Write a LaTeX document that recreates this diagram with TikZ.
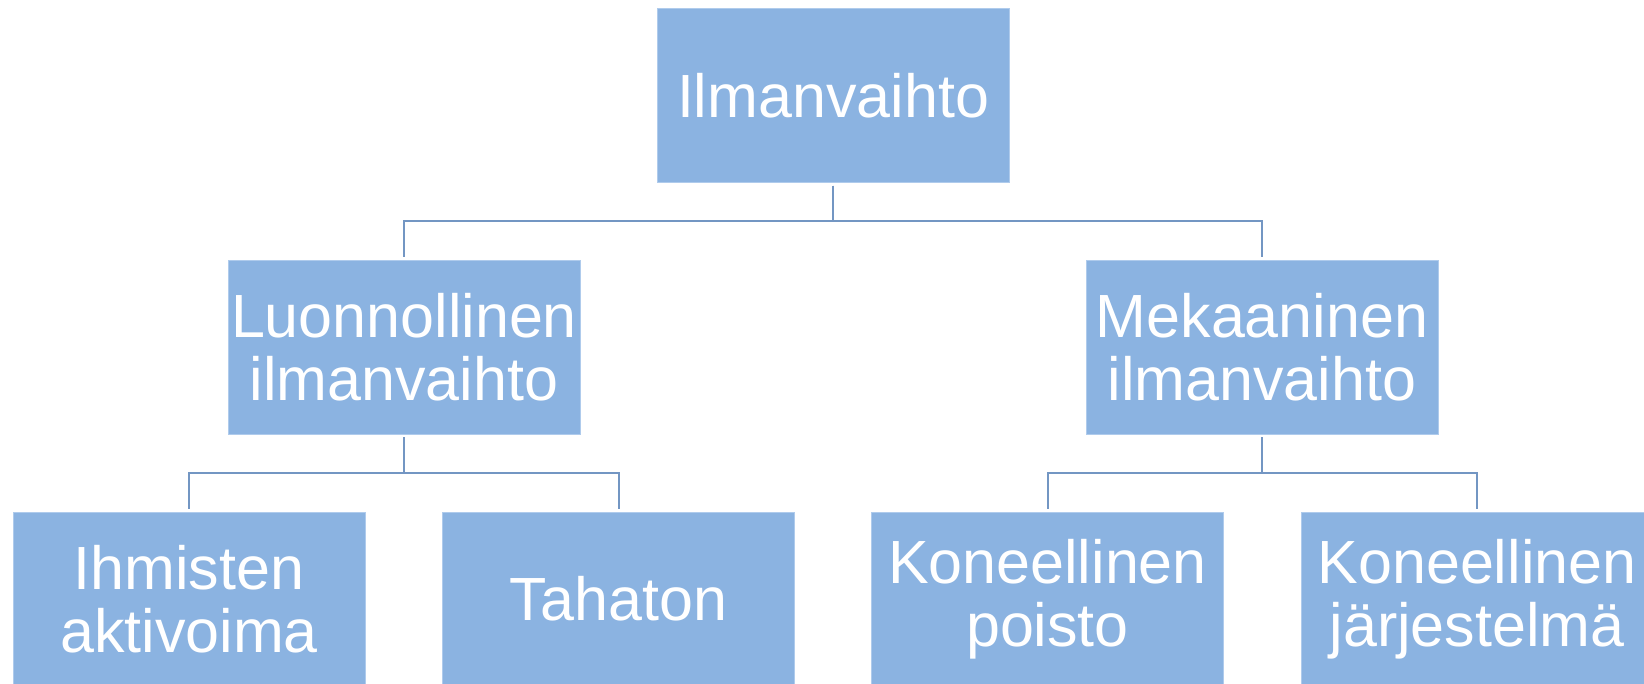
\documentclass[tikz,border=0pt]{standalone}
\usepackage{fontspec}
\setmainfont{Liberation Sans}
\definecolor{boxfill}{RGB}{139,179,225}
\definecolor{boxedge}{RGB}{175,203,236}
\definecolor{linkcol}{RGB}{115,150,195}
\begin{document}
\begin{tikzpicture}[x=1pt,y=-1pt,
  box/.style={rectangle, fill=boxfill, draw=boxedge, line width=0.8pt,
    minimum width=352pt, minimum height=174pt, inner sep=0pt, outer sep=3pt,
    text=white, align=center, font=\fontsize{61}{63}\selectfont},
  link/.style={draw=linkcol, line width=2pt}]
\useasboundingbox (0,0) rectangle (1644,683);
\clip (0,0) rectangle (1644,683);
\node[box] (root) at (833,95.5) {Ilmanvaihto};
\node[box] (nat) at (404,347) {Luonnollinen\\ilmanvaihto};
\node[box] (mek) at (1262,347) {Mekaaninen\\ilmanvaihto};
\node[box] (ihm) at (189,599) {Ihmisten\\aktivoima};
\node[box] (tah) at (618.5,599) {Tahaton};
\node[box] (kpo) at (1047.5,599) {Koneellinen\\poisto};
\node[box] (kja) at (1477,599) {Koneellinen\\järjestelmä};
\draw[link] (root.south) -- ++(0,35) -| (nat.north);
\draw[link] (root.south) -- ++(0,35) -| (mek.north);
\draw[link] (nat.south) -- ++(0,36) -| (ihm.north);
\draw[link] (nat.south) -- ++(0,36) -| (tah.north);
\draw[link] (mek.south) -- ++(0,36) -| (kpo.north);
\draw[link] (mek.south) -- ++(0,36) -| (kja.north);
\end{tikzpicture}
\end{document}
